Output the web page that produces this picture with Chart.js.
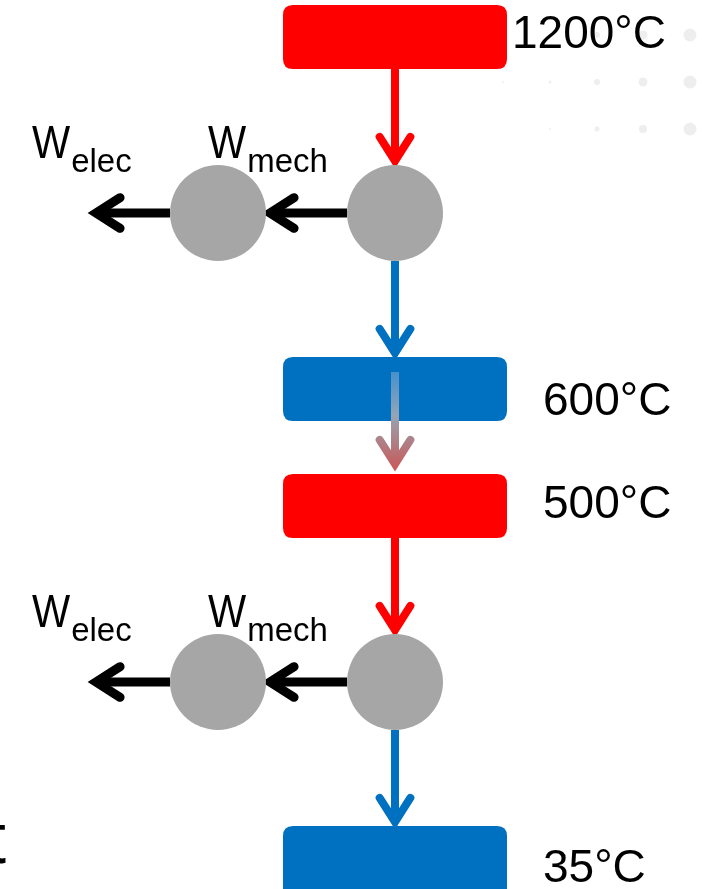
<!DOCTYPE html>
<html>
<head>
<meta charset="utf-8">
<script src="https://cdn.jsdelivr.net/npm/chart.js@4/dist/chart.umd.min.js"></script>
<style>
  html, body { margin: 0; padding: 0; background: #fff; }
  #wrap { width: 702px; height: 889px; position: relative; overflow: hidden; }
</style>
</head>
<body>
<div id="wrap"><canvas id="diagram" width="702" height="889"></canvas></div>
<script>
// temperature levels (boxes), top to bottom
const levels = ["1200°C", "600°C", "500°C", "35°C"];
const levelTop = [5, 357, 474, 826];
const levelBottom = [69, 421, 538, 900];
const levelKind = ["hot", "cold", "hot", "cold"];
const labelBaseline = [48, 415, 518, 882];
const labelLeft = [512, 543, 543, 543];

// turbines (right) and generators (left)
const machineX = [395, 218, 395, 218];
const machineY = [213, 213, 682, 682];

// work labels
const workRows = [213, 682];
const workMain = ["W", "W"];
const workSubs = ["elec", "mech"];

// faint decorative dots, top right
const dotX = [597, 643, 690, 503, 550, 597, 643, 690, 550, 597, 643, 690];
const dotY = [35, 35, 35, 82, 82, 82, 82, 82, 129, 129, 129, 129];
const dotR = [3, 4.5, 6.5, 1, 1.5, 3, 4.5, 6.5, 1, 2.5, 4, 6.5];

const RED = "#FF0000";
const BLUE = "#0070C0";
const GREY = "#A6A6A6";

function arrow(ctx, x1, y1, x2, y2, color, width) {
  const ang = Math.atan2(y2 - y1, x2 - x1);
  const headLen = 32, spread = 0.5;
  ctx.save();
  ctx.strokeStyle = color;
  ctx.lineWidth = width;
  ctx.lineCap = "butt";
  ctx.beginPath();
  ctx.moveTo(x1, y1);
  ctx.lineTo(x2 - Math.cos(ang) * 4, y2 - Math.sin(ang) * 4);
  ctx.stroke();
  ctx.lineCap = "round";
  ctx.lineJoin = "miter";
  ctx.beginPath();
  ctx.moveTo(x2 - headLen * Math.cos(ang - spread), y2 - headLen * Math.sin(ang - spread));
  ctx.lineTo(x2 - Math.cos(ang) * 4, y2 - Math.sin(ang) * 4);
  ctx.lineTo(x2 - headLen * Math.cos(ang + spread), y2 - headLen * Math.sin(ang + spread));
  ctx.stroke();
  ctx.restore();
}

function roundRect(ctx, x, y, w, h, r) {
  ctx.beginPath();
  ctx.moveTo(x + r, y);
  ctx.lineTo(x + w - r, y);
  ctx.quadraticCurveTo(x + w, y, x + w, y + r);
  ctx.lineTo(x + w, y + h - r);
  ctx.quadraticCurveTo(x + w, y + h, x + w - r, y + h);
  ctx.lineTo(x + r, y + h);
  ctx.quadraticCurveTo(x, y + h, x, y + h - r);
  ctx.lineTo(x, y + r);
  ctx.quadraticCurveTo(x, y, x + r, y);
  ctx.closePath();
}

const diagramPlugin = {
  id: "diagram",
  beforeDatasetsDraw(chart) {
    const ctx = chart.ctx;
    const xs = chart.scales.x, ys = chart.scales.y;
    const px = (v) => xs.getPixelForValue(v);
    const py = (v) => ys.getPixelForValue(v);
    const boxL = px(283), boxR = px(507);

    // boxes
    levels.forEach((_, i) => {
      ctx.fillStyle = levelKind[i] === "hot" ? RED : BLUE;
      roundRect(ctx, boxL, py(levelTop[i]), boxR - boxL, py(levelBottom[i]) - py(levelTop[i]), 10);
      ctx.fill();
    });

    const r = 48;
    // vertical flows
    arrow(ctx, px(395), py(levelBottom[0]), px(395), py(machineY[0] - r), RED, 8);
    arrow(ctx, px(395), py(machineY[0] + r), px(395), py(levelTop[1]), BLUE, 8);
    arrow(ctx, px(395), py(levelBottom[2]), px(395), py(machineY[2] - r), RED, 8);
    arrow(ctx, px(395), py(machineY[2] + r), px(395), py(levelTop[3]), BLUE, 8);

    // heat transfer 600 -> 500 (gradient)
    const g = ctx.createLinearGradient(0, py(372), 0, py(468));
    g.addColorStop(0, "rgba(120,165,210,0.6)");
    g.addColorStop(0.45, "rgba(150,165,180,1)");
    g.addColorStop(1, "rgba(200,90,90,1)");
    arrow(ctx, px(395), py(372), px(395), py(468), g, 8);

    // work arrows
    workRows.forEach((y) => {
      arrow(ctx, px(395 - r), py(y), px(218 + r), py(y), "#000", 9);
      arrow(ctx, px(218 - r), py(y), px(92), py(y), "#000", 9);
    });
  },
  afterDatasetsDraw(chart) {
    const ctx = chart.ctx;
    const xs = chart.scales.x, ys = chart.scales.y;
    const px = (v) => xs.getPixelForValue(v);
    const py = (v) => ys.getPixelForValue(v);
    ctx.save();
    ctx.fillStyle = "#000";
    ctx.textBaseline = "alphabetic";
    ctx.textAlign = "left";
    levels.forEach((t, i) => {
      ctx.font = "46px 'Liberation Sans', Arial, sans-serif";
      ctx.fillText(t, px(labelLeft[i]), py(labelBaseline[i]));
    });
    workRows.forEach((y) => {
      const base = y - 55;
      const pairs = [[32, workSubs[0]], [208, workSubs[1]]];
      pairs.forEach(([x, sub], k) => {
        ctx.save();
        ctx.translate(px(x), py(base));
        ctx.scale(0.86, 1);
        ctx.font = "47px 'Liberation Sans', Arial, sans-serif";
        ctx.fillText(workMain[k], 0, 0);
        const w = ctx.measureText(workMain[k]).width;
        ctx.restore();
        ctx.font = "33px 'Liberation Sans', Arial, sans-serif";
        ctx.fillText(sub, px(x) + w * 0.86 + 1, py(base + 14));
      });
    });
    // cropped letter at bottom-left edge
    ctx.font = "72px 'Liberation Sans', Arial, sans-serif";
    ctx.textAlign = "right";
    ctx.fillText("t", px(6), py(863));
    ctx.restore();
  }
};

new Chart(document.getElementById("diagram"), {
  type: "scatter",
  data: {
    datasets: [
      {
        label: "dots",
        data: dotX.map((x, i) => ({ x: x, y: dotY[i] })),
        pointRadius: dotR,
        pointHoverRadius: dotR,
        backgroundColor: "#EEEEEE",
        borderWidth: 0,
        clip: false
      },
      {
        label: "machines",
        data: machineX.map((x, i) => ({ x: x, y: machineY[i] })),
        pointRadius: 48,
        pointHoverRadius: 48,
        backgroundColor: GREY,
        borderWidth: 0,
        clip: false
      }
    ]
  },
  options: {
    responsive: false,
    animation: false,
    events: [],
    layout: { padding: 0, autoPadding: false },
    plugins: { legend: { display: false }, tooltip: { enabled: false } },
    scales: {
      x: { type: "linear", min: 0, max: 702, display: false },
      y: { type: "linear", min: 0, max: 889, reverse: true, display: false }
    }
  },
  plugins: [diagramPlugin]
});
</script>
</body>
</html>
